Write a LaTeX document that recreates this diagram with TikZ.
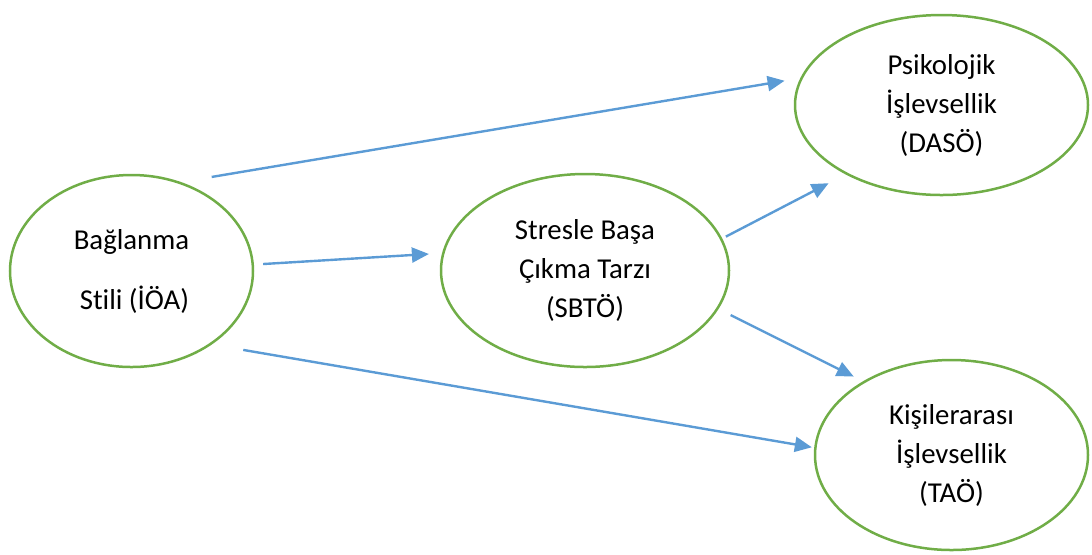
\documentclass[tikz,border=0pt]{standalone}
\usepackage{fontspec}
\setmainfont[Ligatures=NoCommon]{Carlito}
\usetikzlibrary{shapes.geometric,arrows.meta}
\definecolor{ovalgreen}{RGB}{112,173,71}
\definecolor{linkblue}{RGB}{91,155,213}
\begin{document}
\begin{tikzpicture}[x=0.5pt, y=-0.5pt,
  oval/.style={
    ellipse, draw=ovalgreen, line width=1.25pt, inner sep=0pt,
    outer sep=0pt, align=center, font=\fontsize{14.4pt}{19.5pt}\selectfont},
  link/.style={
    draw=linkblue, line width=1.2pt, -{Triangle[length=8.5pt,width=7.5pt]}}]%
\useasboundingbox (0,0) rectangle (1092,554);%
\node [
  oval, minimum width=121.5pt, minimum height=96pt] (baglanma) at (131.5,271) {%
Bağlanma\\[10.5pt]
\hspace{3pt}Stili (İÖA)};%
\node [
  oval, minimum width=144pt, minimum height=96.5pt] (stres) at (585,270.5) {%
Stresle Başa\\
Çıkma Tarzı\\
(SBTÖ)};%
\node [
  oval, minimum width=146.5pt, minimum height=90pt] (psikolojik) at (941.5,105) {%
Psikolojik\\
İşlevsellik\\
(DASÖ)};%
\node [
  oval, minimum width=136.5pt, minimum height=95pt] (kisiler) at (951.5,455) {%
Kişilerarası\\
İşlevsellik\\
(TAÖ)};%
\draw [link, shorten <=16.8pt, shorten >=8.75pt] (baglanma.62) -- (psikolojik.169);%
\draw [link, shorten <=5.2pt, shorten >=7.25pt] (baglanma.3) -- (stres.173);%
\draw [link, shorten <=16.85pt, shorten >=1.8pt] (baglanma.317) -- (kisiler.177);%
\draw [link, shorten <=2.65pt, shorten >=10.3pt] (stres.13) -- (psikolojik.216);%
\draw [link, shorten <=7.4pt, shorten >=5.95pt] (stres.344) -- (kisiler.140);%
\end{tikzpicture}
\end{document}
